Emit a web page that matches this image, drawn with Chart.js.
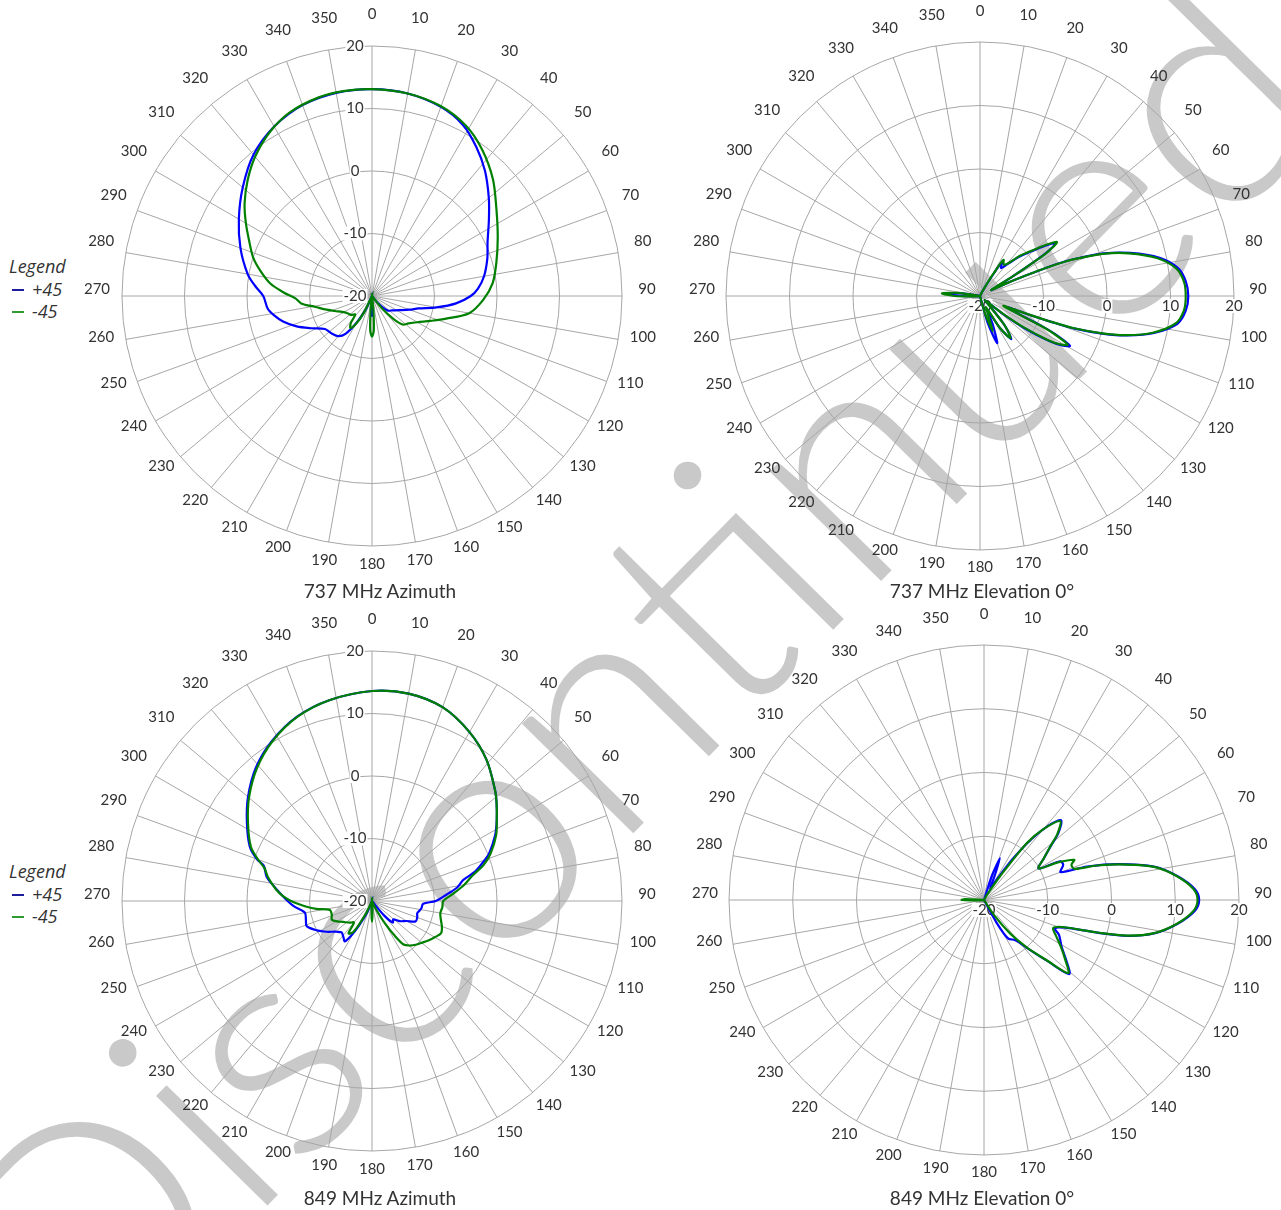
<!DOCTYPE html>
<html>
<head>
<meta charset="utf-8">
<script src="https://cdn.jsdelivr.net/npm/chart.js@4.4.0/dist/chart.umd.min.js"></script>
<style>
html, body { margin: 0; padding: 0; background: #fff; }
body { width: 1281px; height: 1210px; position: relative; overflow: hidden; font-family: Lato, "Open Sans", sans-serif; color: #333; }
.wm { position: absolute; left: 626px; top: 668px; transform: translate(-50%, -50%) rotate(-45.5deg); font-size: 314px; font-weight: 300; line-height: 1; color: #c9c9c9; white-space: nowrap; z-index: 0; }
canvas { position: absolute; z-index: 1; }
.title { position: absolute; z-index: 2; font-size: 19px; transform: translate(-50%, -50%); white-space: nowrap; }
.lg { position: absolute; z-index: 2; font-family: "Open Sans", sans-serif; font-style: italic; font-size: 18px; line-height: 22px; white-space: nowrap; }
.dash { position: absolute; z-index: 2; width: 12px; height: 2px; }
</style>
</head>
<body>
<div class="wm">Discontinued</div>

<canvas id="az737" width="600" height="600" style="left:72px;top:-4px"></canvas>
<canvas id="el737" width="600" height="600" style="left:680px;top:-4px"></canvas>
<canvas id="az849" width="600" height="600" style="left:72px;top:601px"></canvas>
<canvas id="el849" width="600" height="600" style="left:684px;top:600px"></canvas>

<div class="title" style="left:380px;top:590px">737 MHz Azimuth</div>
<div class="title" style="left:982px;top:590px">737 MHz Elevation 0°</div>
<div class="title" style="left:380px;top:1197px">849 MHz Azimuth</div>
<div class="title" style="left:982px;top:1197px">849 MHz Elevation 0°</div>

<div class="lg" style="left:9px;top:255px">Legend</div>
<div class="dash" style="left:12px;top:289px;background:#1c1c9c"></div>
<div class="lg" style="left:32px;top:278px">+45</div>
<div class="dash" style="left:12px;top:311px;background:#2f9a2f"></div>
<div class="lg" style="left:32px;top:300px">-45</div>

<div class="lg" style="left:9px;top:860px">Legend</div>
<div class="dash" style="left:12px;top:894px;background:#1c1c9c"></div>
<div class="lg" style="left:32px;top:883px">+45</div>
<div class="dash" style="left:12px;top:916px;background:#2f9a2f"></div>
<div class="lg" style="left:32px;top:905px">-45</div>

<script>
// tick labels
const angleTickLabels = [0,10,20,30,40,50,60,70,80,90,100,110,120,130,140,150,160,170,180,190,200,210,220,230,240,250,260,270,280,290,300,310,320,330,340,350];
const radiusTickLabels = [-20, -10, 0, 10, 20];

// 737 MHz azimuth (angle in degrees, gain in dB)
const az737PlusAngles = [0,10,20,28,35,42,50,57,65,72,80,86,90,95,100,105,110,117,125,133,140,147,177,180,183,200,205,210,215,220,227,235,242,248,254,259,263,270,275,280,290,300,310,320,330,340,350];
const az737PlusDb = [13.1,12.9,12.2,11.0,9.1,7.0,4.4,2.3,0.4,-0.6,-1.8,-3.0,-4.2,-6.5,-9.5,-12.3,-13.6,-15.0,-16.0,-16.6,-18.5,-20,-20,-16.7,-20,-20,-17.5,-15.0,-12.6,-11.6,-11.2,-10.8,-9.0,-7.0,-5.2,-4.0,-3.2,-2.6,-1.2,0.2,2.4,4.6,7.0,9.5,11.3,12.5,13.0];
const az737MinusAngles = [0,10,20,29,37,46,55,65,75,84,92,100,107,113,120,127,133,137,141,145,170,174,177,180,183,186,190,200,206,210,214,218,222,228,235,242,248,254,259,264,268,272,277,283,288,294,300,306,313,320,328,336,345,352];
const az737MinusDb = [13.1,12.9,12.3,11.1,9.3,6.9,4.3,2.2,0.6,-0.6,-2.2,-4.2,-7.6,-9.8,-11.6,-12.7,-13.3,-15.0,-17.5,-20,-20,-18,-14.5,-13.5,-14.5,-18,-20,-20,-17,-14.8,-13.8,-14.5,-16,-15.5,-15.2,-14.6,-13.6,-12.2,-10.8,-8.6,-7.8,-6.0,-3.6,-1.6,0.0,1.5,3.3,5.2,7.2,9.1,10.9,12.2,12.9,13.1];

// 737 MHz elevation 0°
const el737PlusAngles = [0,20,28,31,33,37,41,45,48,52,55,57,59,62,64,66,67,68,69,71,74,78,82,86,90,94,98,102,105,107,109,110,111,113,116,117,119,121,123,126,128,131,136,140,144,148,152,156,160,164,168,180,260,266,270,274,278,282];
const el737PlusDb = [-20,-20,-19,-16.5,-13.5,-14.5,-13.3,-11.2,-9.8,-7.3,-5.5,-7.8,-14,-18,-16,-12,-8.3,-5.3,-3.3,0.6,4.6,8.9,11.5,12.5,12.8,12.5,11.4,8.0,4.0,0.4,-4.2,-8.2,-12,-15.5,-9,-6.6,-3.8,-4.9,-7.0,-11.5,-15.5,-19,-17.5,-14,-11.6,-14,-17.5,-15,-12.1,-15.5,-20,-20,-20,-19.5,-17,-15,-17,-20];
const el737MinusAngles = [0,20,28,31,33,37,41,45,48,52,55,57,59,62,64,66,67,68,69,71,74,78,82,86,90,94,98,102,105,107,109,110,111,113,116,117,119,121,123,126,128,131,136,140,144,148,152,156,160,164,168,180,260,266,270,274,278,282];
const el737MinusDb = [-20,-20,-19,-16,-13.2,-13.8,-13.1,-11,-9.6,-7.0,-5.2,-7.5,-14,-18,-16,-12,-8.5,-5.5,-3.5,0.4,4.4,8.6,11.2,12.2,12.4,12.2,11.1,7.8,3.8,0.1,-4.5,-8.5,-12.5,-16,-9.5,-7,-4.2,-5.2,-7.3,-12,-16,-19,-18,-14,-11.8,-14,-18,-17,-14.1,-17,-20,-20,-20,-19,-16,-14,-16.5,-20];

// 849 MHz azimuth
const az849PlusAngles = [0,10,20,30,39,48,52,57,62,68,70,74,77,81,85,90,93,98,101,105,110,115,120,126,131,136,140,146,176,180,184,198,203,208,211,214,218,224,229,236,242,249,254,260,266,270,275,279,283,288,290,294,302,310,319,328,338,348];
const az849PlusDb = [13.6,13.7,13.0,11.2,9.1,6.5,5.3,3.8,2.3,0.2,-0.8,-2.8,-5.0,-6.2,-8.0,-9.8,-11.8,-12.0,-12.2,-12.5,-12.3,-12.3,-13.6,-14.5,-15.5,-15.2,-17,-20,-20,-18,-20,-20,-17.9,-15.5,-13.5,-12.2,-12.6,-13.0,-12.5,-11.2,-10.0,-8.8,-9.0,-9.1,-7.5,-6.5,-5.2,-4.0,-2.7,-1.8,-0.4,1.4,3.6,5.9,8.3,10.2,11.85,12.85];
const az849MinusAngles = [0,10,20,30,39,48,52,57,62,68,72,76,80,85,90,95,100,105,110,115,120,125,130,135,140,144,147,150,154,160,176,178,180,182,184,200,206,211,216,220,226,234,240,245,251,258,262,265,269,273,277,283,287,290,294,302,310,319,328,338,348];
const az849MinusDb = [13.6,13.7,13.0,11.2,9.1,6.5,5.3,3.8,2.5,0.5,-1.2,-3.5,-5.0,-7.0,-8.6,-8.7,-8.9,-8.6,-8.1,-7.8,-8.4,-9.0,-9.6,-10.1,-10.7,-11.4,-13.5,-15.8,-18.5,-20,-20,-18,-16.7,-18,-20,-20,-17.5,-14.2,-13.6,-15.5,-15.0,-14.3,-13.5,-12.9,-13.2,-13.1,-11.0,-9.5,-7.5,-5.8,-4.5,-2.9,-2.0,-0.6,1.2,3.4,5.7,8.1,10.1,11.8,12.85];

// 849 MHz elevation 0°
const el849PlusAngles = [0,15,18,21,24,28,32,35,38,41,44,48,51,55,60,63,66,70,72,75,79,83,87,90,93,97,101,104,106,109,112,115,121,126,131,134,138,142,148,151,155,180,266,270,274];
const el849PlusDb = [-20,-20,-16,-13.0,-16,-18,-16,-12,-7.8,-4.5,-2.6,-4.3,-6.5,-8.5,-10.1,-6.6,-6.4,-7.2,-3.0,1.8,7.3,10.6,13.1,13.75,13.1,10.6,7.3,3.2,-1.3,-6.8,-8.0,-7.0,-5.8,-4.1,-2.3,-6.3,-9.8,-12,-12.9,-16,-20,-20,-20,-17.5,-20];
const el849MinusAngles = [0,25,30,34,37,40,44,48,51,55,60,63,66,68,71,73,76,79,83,87,90,93,97,101,104,106,109,112,116,121,126,131,134,138,142,146,150,180,262,266,270,273,276];
const el849MinusDb = [-20,-20,-19,-15.5,-8.8,-5.5,-2.8,-4.5,-6.6,-8.5,-10.1,-7.0,-4.5,-5.2,-5.0,-1.5,3.0,7.2,10.5,12.9,13.5,12.9,10.5,7.2,3.1,-1.5,-7.0,-8.3,-7.5,-6.0,-4.3,-2.5,-6.5,-10,-13.3,-17,-20,-20,-20,-19,-16.5,-17,-20];

const degreeLabels = [];
for (let i = 0; i < 360; i++) degreeLabels.push(String(i));

function toSeries(angles, values) {
  const d = new Array(360).fill(null);
  angles.forEach(function(a, i) { d[a % 360] = values[i]; });
  return d;
}

const polarText = {
  id: 'polarText',
  beforeDatasetsDraw(chart, args, opts) {
    const r = chart.scales.r;
    const ctx = chart.ctx;
    ctx.save();
    ctx.font = '15px Lato, "Open Sans", sans-serif';
    ctx.textAlign = 'center';
    ctx.textBaseline = 'middle';
    angleTickLabels.forEach(function(a) {
      const p = r.getPointPosition(a, r.drawingArea + opts.labelGap);
      ctx.fillStyle = '#333';
      ctx.fillText(String(a), p.x, p.y - 7);
    });
    radiusTickLabels.forEach(function(v) {
      const d = r.getDistanceFromCenterForValue(v);
      let x, y;
      if (opts.mode === 'azimuth') { x = r.xCenter - 17; y = r.yCenter - d; }
      else { x = r.xCenter + d; y = r.yCenter + 10; }
      const t = String(v);
      const w = ctx.measureText(t).width;
      ctx.fillStyle = '#fff';
      ctx.fillRect(x - w / 2 - 1, y - 7, w + 2, 14);
      ctx.fillStyle = '#333';
      ctx.fillText(t, x, y);
    });
    ctx.restore();
  }
};

function makePolar(id, pad, gap, mode, plusA, plusV, minusA, minusV) {
  new Chart(document.getElementById(id), {
    type: 'radar',
    data: {
      labels: degreeLabels,
      datasets: [
        { label: '-45', data: toSeries(minusA, minusV), borderColor: '#008000', order: 0 },
        { label: '+45', data: toSeries(plusA, plusV), borderColor: '#0000ff', order: 1 }
      ]
    },
    options: {
      responsive: false,
      animation: false,
      layout: { padding: pad },
      elements: {
        line: { borderWidth: 2.2, tension: 0.3, fill: false },
        point: { radius: 0, hitRadius: 0 }
      },
      datasets: { radar: { spanGaps: true } },
      scales: {
        r: {
          min: -20,
          max: 20,
          ticks: { display: false, stepSize: 10 },
          grid: { circular: true, color: '#a6a6a6', lineWidth: 1 },
          angleLines: {
            color: function(c) { return c.index % 10 === 0 ? '#a6a6a6' : 'rgba(0,0,0,0)'; },
            lineWidth: function(c) { return c.index % 10 === 0 ? 1 : 0; }
          },
          pointLabels: { display: false }
        }
      },
      plugins: {
        legend: { display: false },
        tooltip: { enabled: false },
        polarText: { mode: mode, labelGap: gap }
      }
    },
    plugins: [polarText]
  });
}

makePolar('az737', 50, 25, 'azimuth', az737PlusAngles, az737PlusDb, az737MinusAngles, az737MinusDb);
makePolar('el737', 46, 24, 'elevation', el737PlusAngles, el737PlusDb, el737MinusAngles, el737MinusDb);
makePolar('az849', 50, 25, 'azimuth', az849PlusAngles, az849PlusDb, az849MinusAngles, az849MinusDb);
makePolar('el849', 45, 24, 'elevation', el849PlusAngles, el849PlusDb, el849MinusAngles, el849MinusDb);
</script>
</body>
</html>
